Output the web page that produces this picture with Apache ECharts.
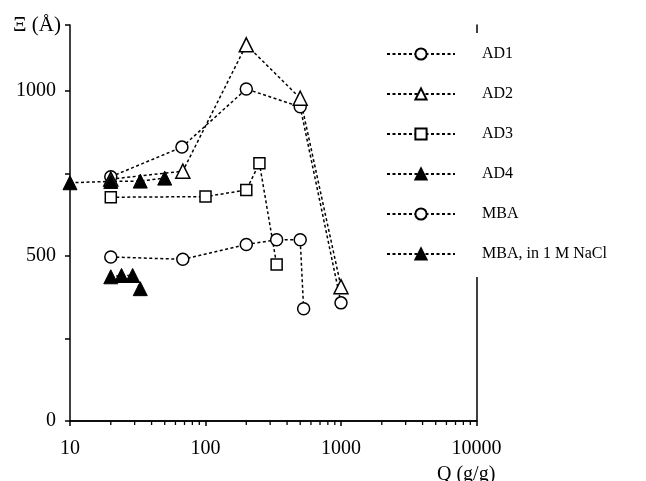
<!DOCTYPE html>
<html><head><meta charset="utf-8">
<script src="https://cdn.jsdelivr.net/npm/echarts@6/dist/echarts.min.js"></script>
<style>html,body{margin:0;padding:0;background:#fff}#c{width:646px;height:481px}</style>
</head><body><div id="c"></div>
<script>
const seriesNames = ['AD1', 'AD2', 'AD3', 'AD4', 'MBA', 'MBA, in 1 M NaCl'];
const xAD1 = [20, 67, 200, 500, 1000];
const yAD1 = [740, 830, 1006, 952, 358];
const xAD2 = [20, 68, 200, 500, 1000];
const yAD2 = [733, 757, 1140, 978, 407];
const xAD3 = [20, 100, 200, 250, 335];
const yAD3 = [678, 680, 700, 781, 474];
const xAD4 = [10, 20, 33, 50];
const yAD4 = [722, 726, 727, 736];
const xMBA = [20, 68, 200, 335, 500, 530];
const yMBA = [497, 490, 535, 549, 549, 340];
const xNaCl = [20, 24, 29, 33];
const yNaCl = [437, 441, 441, 401];
const xMinorTicks = [20,30,40,50,60,70,80,90,200,300,400,500,600,700,800,900,2000,3000,4000,5000,6000,7000,8000,9000];
const yLabelValues = [0, 500, 1000];
const xTitle = 'Q (g/g)';
const yTitle = 'Ξ (Å)';

const FONT = 'Liberation Serif';
const zip = (xs, ys) => xs.map((x, i) => [x, ys[i]]);
const dash = {color: '#000', width: 1.5, type: [3, 2.5]};
const openStyle = {color: '#fff', borderColor: '#000', borderWidth: 1.5};
const fillStyle = {color: '#000', borderColor: '#000', borderWidth: 1};

function mk(name, xs, ys, symbol, size, style) {
  return {
    name, type: 'line', data: zip(xs, ys), symbol, symbolSize: size,
    showAllSymbol: true, lineStyle: dash, itemStyle: style,
    emphasis: {disabled: true}, animation: false, z: 3
  };
}

const chart = echarts.init(document.getElementById('c'), null, {renderer: 'canvas'});
chart.setOption({
  animation: false,
  backgroundColor: '#fff',
  title: [
    {text: yTitle, left: 8, top: 10, textStyle: {fontFamily: FONT, fontSize: 21, fontWeight: 'normal', color: '#000'}},
    {text: xTitle, left: 432, top: 460, textStyle: {fontFamily: FONT, fontSize: 20, fontWeight: 'normal', color: '#000'}}
  ],
  grid: {left: 70, right: 169.5, top: 25, bottom: 60, containLabel: false},
  legend: {
    orient: 'vertical', left: 385, top: 33,
    data: seriesNames,
    itemWidth: 68, itemHeight: 14, itemGap: 24,
    padding: [13, 10, 15, 1],
    backgroundColor: '#fff',
    textStyle: {fontFamily: FONT, fontSize: 16, color: '#000', padding: [0, 0, 0, 22], lineHeight: 14},
    selectedMode: false
  },
  xAxis: [{
    type: 'log', logBase: 10, min: 10, max: 10000,
    axisLine: {lineStyle: {color: '#000', width: 1.5}},
    axisTick: {show: true, length: 5, lineStyle: {color: '#000', width: 1.5}},
    axisLabel: {fontFamily: FONT, fontSize: 20, color: '#000', margin: 18, formatter: v => String(v)},
    splitLine: {show: false}
  }, {
    type: 'log', logBase: 10, min: 10, max: 10000, position: 'top',
    axisLine: {show: true, lineStyle: {color: '#000', width: 1.5}},
    axisTick: {show: false}, axisLabel: {show: false}, splitLine: {show: false}
  }],
  yAxis: [{
    type: 'value', min: 0, max: 1200, interval: 250,
    axisLine: {show: true, lineStyle: {color: '#000', width: 1.5}},
    axisTick: {show: true, length: 5, lineStyle: {color: '#000', width: 1.5}},
    axisLabel: {fontFamily: FONT, fontSize: 20, color: '#000', margin: 14,
      formatter: v => yLabelValues.includes(v) ? String(v) : ''},
    splitLine: {show: false}
  }, {
    type: 'value', min: 0, max: 1200, position: 'right',
    axisLine: {show: true, lineStyle: {color: '#000', width: 1.5}},
    axisTick: {show: false}, axisLabel: {show: false}, splitLine: {show: false}
  }],
  series: [
    mk('AD1', xAD1, yAD1, 'circle', 12, openStyle),
    mk('AD2', xAD2, yAD2, 'triangle', 14, openStyle),
    mk('AD3', xAD3, yAD3, 'rect', 11, openStyle),
    mk('AD4', xAD4, yAD4, 'triangle', 14, fillStyle),
    mk('MBA', xMBA, yMBA, 'circle', 12, openStyle),
    mk('MBA, in 1 M NaCl', xNaCl, yNaCl, 'triangle', 14, fillStyle),
    {
      type: 'custom', silent: true, animation: false, clip: false,
      data: xMinorTicks.map(v => [v, 0]),
      renderItem: (params, api) => {
        const p = api.coord([api.value(0), api.value(1)]);
        return {type: 'line', shape: {x1: p[0], y1: p[1], x2: p[0], y2: p[1] + 4},
          style: {stroke: '#000', lineWidth: 1.3}};
      }
    }
  ]
});
</script></body></html>
